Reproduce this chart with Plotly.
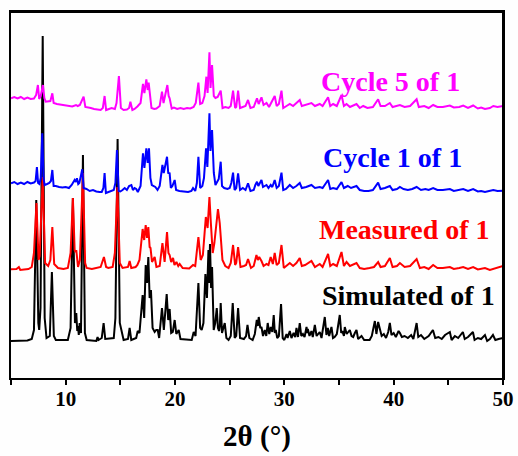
import plotly.graph_objects as go

# ---- data (2θ in degrees, intensity in a.u. incl. stacking offset) ----
simulated = [
    (5.0, 37), (6.5, 37.5), (6.9, 39), (7.1, 48), (7.31, 178), (7.50, 55), (7.58, 48), (7.70, 70),
    (7.90, 342), (8.08, 60), (8.25, 40), (8.55, 42), (8.74, 106), (8.92, 42), (9.1, 38), (10.2, 38),
    (10.45, 50), (10.66, 180), (10.85, 55), (10.97, 65), (11.06, 47), (11.12, 52), (11.2, 43),
    (11.28, 55), (11.40, 45), (11.58, 223), (11.76, 45), (11.92, 38), (12.8, 37), (12.92, 41),
    (13.0, 38), (13.3, 40), (13.47, 55), (13.62, 39), (14.4, 40), (14.55, 60), (14.75, 239),
    (14.95, 55), (15.3, 38), (15.7, 39), (15.85, 50), (16.0, 38), (16.45, 40), (16.59, 47),
    (16.75, 45), (17.04, 83), (17.18, 60), (17.32, 113), (17.44, 95), (17.56, 121), (17.68, 80),
    (17.80, 88), (17.95, 50), (18.14, 46), (18.28, 48), (18.42, 48), (18.55, 40), (18.81, 70),
    (18.98, 48), (19.24, 84), (19.38, 58), (19.51, 69), (19.65, 45), (19.8, 46), (19.97, 58),
    (20.12, 44), (20.34, 48), (20.5, 39), (21.53, 38), (21.71, 46), (21.88, 42), (22.14, 95),
    (22.3, 50), (22.44, 48), (22.6, 55), (22.78, 104), (22.92, 80), (23.06, 128), (23.12, 95),
    (23.20, 134), (23.3, 90), (23.39, 111), (23.54, 48), (23.68, 55), (23.82, 70), (23.93, 50),
    (24.03, 47), (24.10, 52), (24.18, 75), (24.30, 45), (24.55, 55), (24.7, 40), (24.9, 38),
    (25.1, 42), (25.28, 75), (25.46, 40), (25.6, 42), (25.77, 70), (25.95, 40), (26.3, 39),
    (26.5, 42), (26.63, 53), (26.8, 40), (27.1, 38), (27.3, 44), (27.48, 58), (27.57, 52),
    (27.66, 61), (27.8, 50), (27.91, 51), (28.05, 42), (28.21, 48), (28.35, 42), (28.48, 55),
    (28.62, 44), (28.76, 51), (28.9, 46), (29.03, 63), (29.13, 45), (29.22, 48), (29.35, 40),
    (29.5, 42), (29.70, 74), (29.85, 40), (30.0, 38), (30.2, 44), (30.3, 40), (30.5, 47),
    (30.65, 40), (30.85, 45), (31.0, 41), (31.11, 50), (31.25, 41), (31.41, 55), (31.55, 42),
    (31.7, 44), (31.85, 41), (32.03, 51), (32.1, 45), (32.15, 49), (32.3, 42), (32.48, 47),
    (32.6, 41), (32.79, 53), (32.95, 42), (33.1, 44), (33.24, 46), (33.4, 40), (33.7, 61),
    (33.85, 43), (33.98, 50), (34.1, 42), (34.31, 51), (34.45, 40), (34.6, 41), (34.8, 44),
    (35.07, 63), (35.2, 45), (35.3, 47), (35.45, 42), (35.53, 51), (35.7, 44), (35.99, 48),
    (36.15, 42), (36.3, 41), (36.45, 45), (36.6, 48), (36.75, 39), (37.06, 42), (37.3, 38),
    (37.8, 38), (38.0, 42), (38.28, 57), (38.42, 44), (38.58, 56), (38.74, 49), (38.9, 42),
    (39.1, 44), (39.3, 40), (39.5, 46), (39.65, 55), (39.8, 43), (40.0, 45), (40.2, 41),
    (40.45, 47), (40.57, 45), (40.75, 41), (41.0, 42), (41.3, 40), (41.6, 43), (41.8, 39),
    (42.1, 55), (42.25, 41), (42.5, 43), (42.8, 39), (43.2, 42), (43.59, 48), (43.8, 40),
    (44.1, 41), (44.4, 39), (44.7, 43), (45.14, 46), (45.3, 38), (45.6, 42), (45.9, 40),
    (46.33, 46), (46.5, 39), (46.8, 41), (47.25, 46), (47.4, 38), (47.7, 40), (48.0, 39),
    (48.35, 43), (48.55, 37), (48.8, 39), (49.08, 43), (49.3, 38), (49.6, 39), (50.0, 40),
]

measured = [
    (5.0, 108.7), (5.5, 109), (5.72, 111), (5.85, 108), (6.2, 108.5), (6.6, 109), (6.9, 111),
    (7.1, 125), (7.33, 175), (7.52, 118), (7.62, 122), (7.9, 201), (8.12, 115), (8.4, 112),
    (8.6, 118), (8.78, 151), (8.95, 114), (9.3, 110), (9.8, 109), (10.2, 110), (10.45, 125),
    (10.66, 180), (10.82, 128), (10.9, 126), (10.97, 128), (11.13, 111), (11.3, 118), (11.58, 205),
    (11.78, 115), (11.92, 110), (12.4, 109), (12.8, 110), (12.95, 110), (13.2, 111), (13.5, 121),
    (13.7, 111), (13.9, 110), (14.3, 111), (14.5, 125), (14.73, 191), (14.95, 115), (15.2, 110),
    (15.7, 111), (15.85, 117), (16.0, 110), (16.4, 111), (16.56, 113), (16.75, 118), (17.04, 149),
    (17.18, 138), (17.32, 153), (17.44, 140), (17.56, 151), (17.68, 131), (17.76, 130), (17.9, 116),
    (18.14, 121), (18.3, 111), (18.6, 112), (18.85, 135), (19.05, 116), (19.27, 146), (19.4, 125),
    (19.51, 123), (19.65, 116), (19.82, 120), (19.95, 113), (20.13, 116), (20.3, 112), (20.43, 114),
    (20.7, 110), (21.3, 109.5), (21.65, 113), (21.85, 112), (22.14, 141), (22.35, 118), (22.55, 123),
    (22.82, 161), (22.98, 150), (23.15, 181), (23.28, 155), (23.45, 125), (23.6, 135), (23.93, 169),
    (24.09, 155), (24.25, 125), (24.34, 118), (24.6, 112), (24.9, 110), (25.1, 115), (25.31, 133),
    (25.5, 113), (25.6, 115), (25.77, 131), (25.99, 111), (26.3, 112), (26.5, 113), (26.68, 119),
    (26.95, 110), (27.2, 112), (27.45, 123), (27.58, 118), (27.7, 121), (27.91, 117), (28.1, 112),
    (28.37, 114), (28.55, 113), (28.75, 121), (28.95, 114), (29.12, 125), (29.3, 113), (29.5, 115),
    (29.74, 133), (29.95, 110), (30.2, 112), (30.5, 115), (30.8, 112), (31.1, 115), (31.41, 120),
    (31.6, 112), (31.9, 113), (32.48, 117), (32.8, 111), (33.24, 114), (33.5, 111), (34.0, 124),
    (34.2, 112), (34.46, 114), (34.8, 112), (35.23, 126), (35.45, 112), (35.69, 116), (36.0, 112),
    (36.6, 115), (36.9, 110), (37.3, 109), (37.8, 110), (38.2, 111), (38.58, 116), (38.8, 111),
    (39.2, 112), (39.65, 120), (39.9, 111), (40.3, 112), (40.57, 115), (41.0, 111), (41.5, 112),
    (42.1, 119), (42.4, 110), (42.8, 111), (43.2, 109), (43.61, 113), (44.0, 110), (44.5, 110),
    (45.14, 111), (45.5, 109), (46.0, 110), (46.36, 111), (46.8, 109), (47.27, 111), (47.7, 108.5),
    (48.0, 109), (48.35, 110), (48.8, 108), (49.11, 109), (49.5, 110), (50.0, 112),
]

cycle1 = [
    (5.0, 194.7), (5.3, 196), (5.6, 194), (5.9, 195.5), (6.2, 194), (6.5, 196), (6.8, 194.5),
    (7.1, 195.5), (7.25, 197), (7.37, 211), (7.48, 195), (7.6, 194), (7.72, 200), (7.86, 244.7),
    (7.98, 200), (8.07, 193), (8.3, 194), (8.5, 195), (8.65, 197), (8.78, 208), (8.9, 192),
    (9.1, 192), (9.4, 191), (9.7, 190.5), (10.0, 191), (10.3, 190), (10.55, 193), (10.82, 198),
    (10.93, 196), (11.03, 199.7), (11.15, 194), (11.25, 195), (11.52, 208.7), (11.64, 190),
    (11.9, 189), (12.2, 187), (12.5, 188), (12.8, 186.5), (13.1, 186), (13.3, 186), (13.45, 190),
    (13.56, 205), (13.68, 185), (13.9, 186), (14.1, 187), (14.4, 188), (14.55, 195), (14.69, 228),
    (14.85, 187), (15.0, 186.5), (15.2, 188), (15.4, 190), (15.6, 188), (15.8, 192), (16.01, 193),
    (16.15, 188), (16.3, 190), (16.45, 189), (16.6, 186), (16.85, 192), (17.07, 224.7), (17.2, 210),
    (17.38, 229.7), (17.5, 215), (17.62, 229.7), (17.75, 200), (17.88, 193), (18.05, 192),
    (18.2, 191), (18.4, 188), (18.6, 192), (18.85, 213), (18.97, 205), (19.27, 221.3), (19.38, 205),
    (19.51, 204.7), (19.62, 190), (19.76, 192), (19.97, 198), (20.1, 188), (20.4, 187), (20.8, 186.5),
    (21.2, 186), (21.5, 187), (21.65, 190), (21.85, 187), (22.0, 195), (22.14, 221.3), (22.3, 190),
    (22.5, 192), (22.65, 200), (22.84, 229.7), (22.96, 211), (23.15, 264.7), (23.24, 227),
    (23.39, 248), (23.55, 205), (23.7, 193), (23.85, 196), (24.0, 199), (24.18, 216.3), (24.3, 192),
    (24.5, 190), (24.8, 189), (25.0, 190), (25.15, 195), (25.31, 205.3), (25.45, 188), (25.6, 190),
    (25.77, 204.7), (25.95, 188), (26.2, 190), (26.45, 188), (26.68, 194.7), (26.9, 187), (27.2, 188),
    (27.35, 193), (27.5, 196.3), (27.62, 192), (27.75, 195), (27.91, 198), (28.05, 191), (28.37, 193),
    (28.55, 190), (28.75, 193), (28.9, 191), (29.12, 198), (29.3, 190), (29.5, 192), (29.74, 205.3),
    (29.9, 188), (30.15, 189), (30.5, 193), (30.8, 190), (31.1, 192), (31.41, 195), (31.6, 190),
    (32.0, 191), (32.48, 193), (32.8, 190), (33.24, 191), (33.5, 190), (34.0, 198), (34.2, 189),
    (34.46, 190), (34.8, 189), (35.23, 196), (35.45, 190), (35.8, 192), (36.1, 190), (36.6, 192),
    (36.9, 188), (37.3, 187), (37.7, 187), (38.1, 188), (38.58, 195.3), (38.8, 189), (39.2, 190),
    (39.65, 192), (39.9, 188), (40.3, 189), (40.57, 191), (40.9, 189), (41.3, 188), (41.7, 189),
    (42.1, 191), (42.5, 188), (42.9, 189), (43.2, 188), (43.61, 190), (44.0, 188), (44.5, 188),
    (45.14, 189), (45.5, 187), (46.0, 188), (46.36, 189), (46.8, 187), (47.27, 189), (47.7, 186.5),
    (48.0, 187), (48.35, 186), (48.8, 187.5), (49.11, 188), (49.5, 187), (50.0, 187.3),
]

cycle5 = [
    (5.0, 279.7), (5.3, 281), (5.6, 279.5), (5.9, 281), (6.2, 279), (6.5, 280.5), (6.8, 279),
    (7.1, 279.5), (7.3, 283), (7.46, 293), (7.58, 279), (7.72, 282), (7.92, 293), (8.05, 280),
    (8.17, 276.3), (8.4, 276.5), (8.6, 277), (8.78, 284.7), (8.9, 275), (9.2, 274), (9.6, 273.5),
    (10.0, 272.5), (10.3, 272.5), (10.6, 271.5), (10.95, 273), (11.1, 272), (11.3, 273),
    (11.64, 281.3), (11.8, 271), (12.0, 270.7), (12.3, 270), (12.6, 269), (12.9, 268.5), (13.2, 268),
    (13.4, 270), (13.56, 282), (13.7, 268), (13.9, 269), (14.2, 270), (14.5, 269), (14.65, 275),
    (14.87, 302), (15.05, 270), (15.3, 268), (15.6, 268.5), (15.8, 270), (15.92, 276.3), (16.1, 268),
    (16.3, 269), (16.56, 271.5), (16.85, 275), (17.07, 294), (17.2, 285), (17.38, 298.7), (17.5, 288),
    (17.59, 295.3), (17.72, 285), (17.85, 270), (18.1, 269), (18.3, 269.5), (18.6, 272),
    (18.81, 286.3), (18.95, 275), (19.3, 293), (19.42, 282), (19.51, 279.7), (19.7, 269.5),
    (19.9, 270.5), (20.2, 269), (20.5, 270), (20.8, 269), (21.1, 270), (21.4, 269.5), (21.7, 271),
    (21.9, 275), (22.14, 295.3), (22.3, 274), (22.5, 275), (22.7, 282), (22.87, 301.3), (22.98, 285),
    (23.15, 325.7), (23.25, 290), (23.39, 313), (23.55, 282), (23.7, 280), (23.9, 281), (24.18, 287.3),
    (24.35, 270), (24.6, 271), (24.9, 270), (25.1, 272), (25.31, 287.3), (25.5, 270), (25.6, 271),
    (25.77, 287.3), (25.95, 270), (26.2, 271), (26.45, 272), (26.68, 278), (26.9, 270), (27.2, 271),
    (27.35, 276), (27.5, 279.7), (27.65, 274), (27.91, 280.7), (28.1, 273), (28.37, 275), (28.6, 271),
    (28.85, 276), (29.12, 282), (29.3, 272), (29.5, 274), (29.74, 287.3), (29.9, 270), (30.2, 272),
    (30.5, 274), (30.8, 272), (31.1, 275), (31.41, 278), (31.6, 272), (31.9, 273), (32.48, 275),
    (32.8, 272), (33.24, 274), (33.5, 272), (34.0, 280.7), (34.2, 272), (34.46, 274), (34.8, 272),
    (35.23, 283), (35.45, 272), (35.69, 274), (36.0, 271), (36.6, 274), (36.9, 270), (37.21, 272),
    (37.6, 270), (38.1, 271), (38.58, 278.7), (38.8, 272), (39.2, 272), (39.65, 275), (39.9, 271),
    (40.3, 272), (40.57, 273), (41.0, 271), (41.5, 272), (42.1, 278.7), (42.3, 271), (42.8, 272),
    (43.2, 270), (43.61, 273), (44.0, 271), (44.5, 271), (45.14, 272.5), (45.5, 270.5), (46.0, 271),
    (46.36, 272.5), (46.8, 270), (47.27, 272.5), (47.7, 269.5), (48.0, 270.5), (48.35, 269),
    (48.8, 270), (49.11, 272), (49.5, 271), (50.0, 272),
]

series_names = ["Simulated of 1", "Measured of 1", "Cycle 1 of 1", "Cycle 5 of 1"]
series_colors = ["#000000", "#FF0000", "#0000FF", "#FF00FF"]
series_data = [simulated, measured, cycle1, cycle5]
# label anchor positions (2θ, intensity)
label_pos = [(41.33, 83), (41.0, 148.5), (39.86, 221), (39.74, 297)]

tick_values = [5, 10, 15, 20, 25, 30, 35, 40, 45, 50]
tick_labels = ["", "10", "", "20", "", "30", "", "40", "", "50"]
x_range = [5, 50]
y_range = [0, 366]

FONT = "Liberation Serif, Times New Roman, serif"
BG = "rgb(254,254,254)"

fig = go.Figure()
for name, color, data in zip(series_names, series_colors, series_data):
    xs = [p[0] for p in data]
    ys = [p[1] for p in data]
    fig.add_trace(go.Scatter(x=xs, y=ys, mode="lines", name=name,
                             line=dict(color=color, width=2), showlegend=False))

for name, color, (lx, ly) in zip(series_names, series_colors, label_pos):
    fig.add_annotation(x=lx, y=ly, text="<b>" + name + "</b>", showarrow=False,
                       xanchor="center", yanchor="middle",
                       font=dict(family=FONT, size=28, color=color))

# top and right edges of the plot frame
fig.add_shape(type="line", xref="paper", yref="paper", x0=0, x1=1, y0=1, y1=1,
              line=dict(color="black", width=2))
fig.add_shape(type="line", xref="paper", yref="paper", x0=1, x1=1, y0=0, y1=1,
              line=dict(color="black", width=2))

fig.update_layout(
    width=518, height=456,
    margin=dict(l=11, r=15, t=12, b=78, autoexpand=False),
    paper_bgcolor=BG, plot_bgcolor=BG,
    xaxis=dict(range=x_range, tickmode="array", tickvals=tick_values,
               ticktext=["<b>" + t + "</b>" if t else "" for t in tick_labels],
               ticks="outside", ticklen=5, tickwidth=2, tickcolor="black",
               ticklabelstandoff=-4,
               showline=True, linewidth=2, linecolor="black", mirror=True,
               showgrid=False, zeroline=False, automargin=False,
               tickfont=dict(family=FONT, size=21, color="black"),
               title=dict(text="<b>2θ (°)</b>", font=dict(family=FONT, size=29, color="black"))),
    yaxis=dict(range=y_range, showticklabels=False, ticks="", showline=True, linewidth=2,
               linecolor="black", mirror=True, showgrid=False, zeroline=False, automargin=False),
)

fig.write_html("out.html")
